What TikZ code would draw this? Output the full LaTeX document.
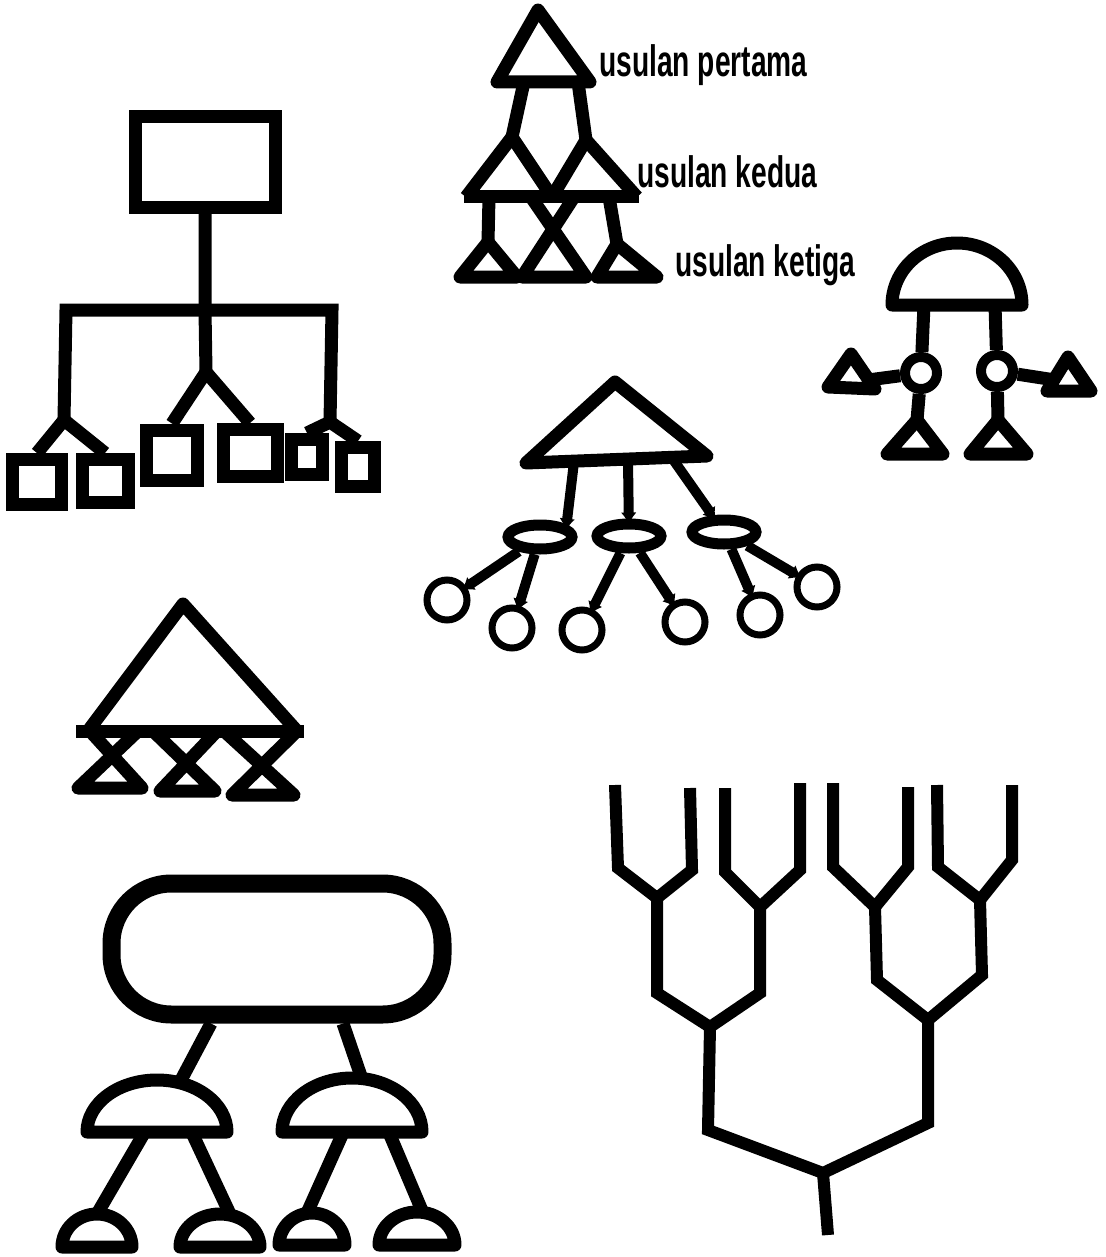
\documentclass[tikz,border=0pt]{standalone}
\usepackage{fontspec}
\newfontfamily\labelfont[FakeStretch=0.64]{Liberation Sans Bold}
\usepackage{tikz}
\usetikzlibrary{positioning,arrows.meta,shapes.geometric}
\tikzset{
  ink/.style={line width=6.5pt,line join=round},
  box/.style={draw,line width=6.5pt,inner sep=0pt},
  knob/.style={circle,draw,line width=5pt,inner sep=0pt,minimum size=16pt},
  oval/.style={ellipse,draw,line width=5.5pt,inner sep=0pt,minimum width=32pt,minimum height=12pt},
  bulb/.style={circle,draw,line width=3.5pt,inner sep=0pt,minimum size=20pt},
  stalk/.style={-{Latex[length=6pt,width=8pt]},line width=5pt,shorten >=-3pt},
  slab/.style={draw,line width=9pt,rounded corners=30pt,inner sep=0pt},
  branch/.style={line width=6pt},
  tag/.style={font=\labelfont\fontsize{22pt}{22pt}\selectfont,anchor=base west,inner sep=0pt}
}

\begin{document}
\begin{tikzpicture}[x=0.5pt,y=-0.5pt]
  \fill[white] (0,0) rectangle (1106,1257);

  % pyramid of proposals
  \coordinate (apex1) at (538,10);
  \coordinate (apex2a) at (512,137);
  \coordinate (apex2b) at (586,140);
  \coordinate (apex3a) at (488,242);
  \coordinate (apex3c) at (617,244);
  \coordinate (foot1a) at (524,82);
  \coordinate (foot1b) at (578,82);
  \draw[ink] (apex1) -- (497,82) -- (590,82) -- cycle;
  \draw[ink] (foot1a) -- (apex2a);
  \draw[ink] (foot1b) -- (apex2b);
  \draw[ink] (466,197) -- (apex2a) -- (552,197);
  \draw[ink] (552,197) -- (apex2b) -- (637,197);
  \draw[ink] (464,197) -- (639,197);
  \draw[ink] (489,197) -- (apex3a);
  \draw[ink] (apex3a) -- (460,277) -- (517,277) -- cycle;
  \draw[ink] (531,197) -- (586,277) -- (522,277) -- (574,197);
  \draw[ink] (609,197) -- (apex3c);
  \draw[ink] (apex3c) -- (597,277) -- (657,277) -- cycle;
  \node[tag] (first) at (599,77) {usulan pertama};
  \node[tag] (second) at (637,188) {usulan kedua};
  \node[tag] (third) at (675,277) {usulan ketiga};

  % chart of boxes
  \node[box,minimum width=70pt,minimum height=45.5pt] (chief) at (205,162) {};
  \node[box,minimum width=24.5pt,minimum height=22.5pt] (b1) at (37,482) {};
  \node[box,minimum width=23pt,minimum height=21.5pt] (b2) at (105,481) {};
  \node[box,minimum width=25.5pt,minimum height=25pt] (b3) at (172,455) {};
  \node[box,minimum width=27pt,minimum height=23.5pt] (b4) at (250,453) {};
  \node[box,minimum width=15.5pt,minimum height=17.5pt] (b5) at (307,457) {};
  \node[box,minimum width=16.5pt,minimum height=19.5pt] (b6) at (358,467) {};
  \coordinate (hub) at (205,310);
  \coordinate (hubl) at (66,310);
  \coordinate (hubr) at (332,310);
  \coordinate (forkl) at (64,420);
  \coordinate (forkm) at (206,372);
  \coordinate (forkr) at (330,422);
  \draw[ink] (chief.south) -- (hub) -- (forkm);
  \draw[ink,line join=miter] (forkl) -- (hubl) -- (hubr) -- (forkr);
  \draw[ink] (b1.north) -- (forkl) -- (b2.north);
  \draw[ink] (b3.north) -- (forkm) -- (b4.north);
  \draw[ink] (b5.north) -- (forkr) -- (b6.north);

  % dome figure
  \coordinate (brim) at (892,305);
  \coordinate (hipl) at (924,305);
  \coordinate (hipr) at (995,305);
  \draw[ink] (brim) arc[start angle=180,end angle=360,x radius=65,y radius=62] -- cycle;
  \node[knob] (eyel) at (921,373) {};
  \node[knob] (eyer) at (997,371) {};
  \coordinate (handl) at (851,354);
  \coordinate (handr) at (1068,357);
  \coordinate (wristl) at (868,380);
  \coordinate (wristr) at (1055,380);
  \coordinate (footl) at (917,420);
  \coordinate (footr) at (998,420);
  \draw[ink] (hipl) -- (eyel) -- (footl);
  \draw[ink] (hipr) -- (eyer) -- (footr);
  \draw[ink] (eyel) -- (wristl);
  \draw[ink] (eyer) -- (wristr);
  \draw[ink] (handl) -- (828,387) -- (875,389) -- cycle;
  \draw[ink] (handr) -- (1047,391) -- (1091,391) -- cycle;
  \draw[ink] (footl) -- (887,454) -- (943,454) -- cycle;
  \draw[ink] (footr) -- (970,454) -- (1027,454) -- cycle;

  % triangle with seeds
  \coordinate (peak) at (615,382);
  \coordinate (rootl) at (574,462);
  \coordinate (rootm) at (628,460);
  \coordinate (rootr) at (672,458);
  \draw[ink] (peak) -- (526,463) -- (707,456) -- cycle;
  \node[oval] (seedl) at (540,537) {};
  \node[oval] (seedm) at (629,536) {};
  \node[oval] (seedr) at (724,532) {};
  \node[bulb] (bulb1) at (447,600) {};
  \node[bulb] (bulb2) at (512,628) {};
  \node[bulb] (bulb3) at (582,630) {};
  \node[bulb] (bulb4) at (685,622) {};
  \node[bulb] (bulb5) at (760,615) {};
  \node[bulb] (bulb6) at (817,587) {};
  \draw[stalk] (rootl) -- (seedl.north east);
  \draw[stalk] (rootm) -- (seedm);
  \draw[stalk] (rootr) -- (seedr);
  \draw[stalk] (seedl) -- (bulb1);
  \draw[stalk] (seedl) -- (bulb2);
  \draw[stalk] (seedm) -- (bulb3);
  \draw[stalk] (seedm) -- (bulb4);
  \draw[stalk] (seedr) -- (bulb5);
  \draw[stalk] (seedr) -- (bulb6);

  % triangle on hourglasses
  \coordinate (crown) at (183,604);
  \draw[ink] (88,731) -- (crown) -- (297,731);
  \draw[ink] (76,731) -- (304,731);
  \draw[ink] (90,731) -- (142,788) -- (78,788) -- (138,731);
  \draw[ink] (153,731) -- (215,791) -- (160,791) -- (217,731);
  \draw[ink] (224,731) -- (294,795) -- (232,795) -- (297,731);

  % slab with domes
  \node[slab,minimum width=165.5pt,minimum height=65.5pt] (cloud) at (277,949) {};
  \coordinate (capl) at (87,1132);
  \coordinate (capr) at (282,1132);
  \coordinate (neckl) at (180,1082);
  \coordinate (neckr) at (363,1082);
  \draw[ink] ([xshift=-33pt]cloud.south) -- (neckl);
  \draw[ink] ([xshift=33pt]cloud.south) -- (neckr);
  \draw[ink] (capl) arc[start angle=180,end angle=360,x radius=70,y radius=52] -- cycle;
  \draw[ink] (capr) arc[start angle=180,end angle=360,x radius=70,y radius=54] -- cycle;
  \coordinate (toe1) at (97,1214);
  \coordinate (toe2) at (230,1214);
  \coordinate (toe3) at (307,1213);
  \coordinate (toe4) at (423,1213);
  \draw[ink] (143,1135) -- (toe1);
  \draw[ink] (193,1135) -- (toe2);
  \draw[ink] (342,1135) -- (toe3);
  \draw[ink] (390,1135) -- (toe4);
  \draw[ink] (62,1247) arc[start angle=180,end angle=360,x radius=35,y radius=33] -- cycle;
  \draw[ink] (180,1247) arc[start angle=180,end angle=360,x radius=40,y radius=33] -- cycle;
  \draw[ink] (279,1245) arc[start angle=180,end angle=360,x radius=33,y radius=32] -- cycle;
  \draw[ink] (379,1245) arc[start angle=180,end angle=360,x radius=38,y radius=33] -- cycle;

  % branching tree
  \coordinate (trunk) at (828,1235);
  \coordinate (knot) at (823,1173);
  \coordinate (elbowl) at (708,1130);
  \coordinate (elbowr) at (928,1123);
  \coordinate (knotl) at (710,1027);
  \coordinate (knotr) at (928,1020);
  \coordinate (elbowll) at (657,993);
  \coordinate (elbowlr) at (760,993);
  \coordinate (elbowrl) at (877,980);
  \coordinate (elbowrr) at (982,975);
  \coordinate (knotll) at (657,898);
  \coordinate (knotlr) at (760,907);
  \coordinate (knotrl) at (875,907);
  \coordinate (knotrr) at (980,900);
  \coordinate (twig1) at (618,868);
  \coordinate (twig2) at (692,870);
  \coordinate (twig3) at (725,872);
  \coordinate (twig4) at (800,870);
  \coordinate (twig5) at (833,867);
  \coordinate (twig6) at (908,867);
  \coordinate (twig7) at (938,867);
  \coordinate (twig8) at (1012,860);
  \coordinate (tip1) at (615,785);
  \coordinate (tip2) at (690,788);
  \coordinate (tip3) at (725,788);
  \coordinate (tip4) at (800,783);
  \coordinate (tip5) at (833,783);
  \coordinate (tip6) at (908,787);
  \coordinate (tip7) at (937,785);
  \coordinate (tip8) at (1012,785);
  \draw[branch] (trunk) -- (knot);
  \draw[branch] (knotl) -- (elbowl) -- (knot) -- (elbowr) -- (knotr);
  \draw[branch] (knotll) -- (elbowll) -- (knotl) -- (elbowlr) -- (knotlr);
  \draw[branch] (knotrl) -- (elbowrl) -- (knotr) -- (elbowrr) -- (knotrr);
  \draw[branch] (tip1) -- (twig1) -- (knotll) -- (twig2) -- (tip2);
  \draw[branch] (tip3) -- (twig3) -- (knotlr) -- (twig4) -- (tip4);
  \draw[branch] (tip5) -- (twig5) -- (knotrl) -- (twig6) -- (tip6);
  \draw[branch] (tip7) -- (twig7) -- (knotrr) -- (twig8) -- (tip8);
\end{tikzpicture}
\end{document}
